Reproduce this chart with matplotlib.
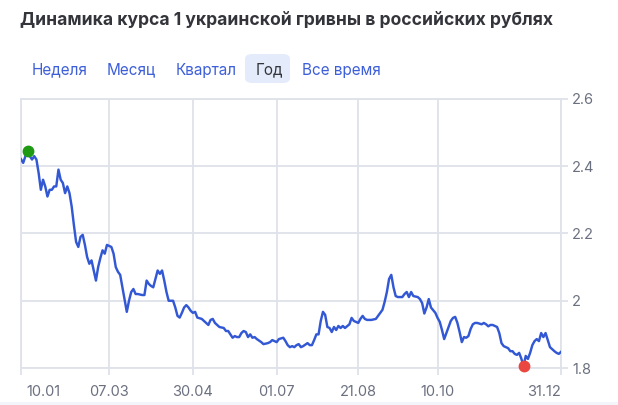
import matplotlib
matplotlib.use("Agg")
import matplotlib.pyplot as plt
import matplotlib.transforms as mtransforms
from matplotlib.patches import FancyBboxPatch, Rectangle
import numpy as np

plt.rcParams['font.family'] = ['Inter', 'DejaVu Sans']

title = "Динамика курса 1 украинской гривны в российских рублях"
periods = ["Неделя", "Месяц", "Квартал", "Год", "Все время"]
active_period = "Год"

# trading session number (0 = 10.01) and UAH/RUB rate
session = [0, 1, 2, 3, 4, 5, 6, 7, 8, 9, 10, 11, 12, 13, 14, 15, 16, 17, 18, 19,
           20, 21, 22, 23, 24, 25, 26, 27, 28, 29, 30, 31, 32, 33, 34, 35, 36, 37, 38, 39,
           41, 42, 43, 44, 45, 46, 48, 49, 50, 51, 52, 53, 55, 56, 57, 58, 59, 60, 62, 63,
           64, 65, 66, 67, 68, 69, 70, 71, 72, 73, 74, 75, 76, 77, 78, 79, 80, 82, 84, 85,
           86, 87, 88, 89, 90, 92, 93, 94, 96, 97, 98, 99, 100, 101, 102, 103, 104, 105, 106, 107,
           109, 110, 112, 113, 114, 116, 117, 119, 120, 121, 122, 123, 124, 125, 126, 127, 128, 130, 131, 132,
           133, 134, 135, 136, 137, 138, 139, 140, 141, 142, 143, 144, 145, 146, 147, 149, 150, 151, 153, 154,
           155, 156, 157, 159, 161, 162, 164, 165, 166, 167, 168, 169, 170, 171, 173, 174, 175, 176, 177, 178,
           180, 181, 182, 183, 184, 185, 186, 188, 189, 190, 191, 192, 193, 195, 196, 197, 198, 199, 200, 201,
           202, 203, 204, 205, 206, 207, 209, 210, 211, 212, 213, 214, 216, 217, 218, 219, 221, 222, 223, 224,
           225, 226, 227, 228, 229, 230, 231, 232, 233, 234, 235, 236, 237, 238, 239, 240, 241, 242, 243, 244,
           245]
rate = [2.421, 2.410, 2.430, 2.445, 2.430, 2.420, 2.430, 2.420, 2.380, 2.330, 2.360, 2.340, 2.310, 2.330, 2.330, 2.340, 2.340, 2.390, 2.360, 2.350,
        2.320, 2.340, 2.320, 2.280, 2.225, 2.175, 2.160, 2.190, 2.196, 2.166, 2.130, 2.110, 2.120, 2.090, 2.060, 2.100, 2.127, 2.150, 2.140, 2.166,
        2.160, 2.140, 2.100, 2.086, 2.077, 2.040, 1.967, 2.000, 2.026, 2.035, 2.020, 2.020, 2.017, 2.017, 2.060, 2.050, 2.044, 2.040, 2.090, 2.080,
        2.090, 2.060, 2.026, 2.000, 2.000, 2.000, 1.980, 1.955, 1.950, 1.964, 1.980, 1.987, 1.980, 1.970, 1.964, 1.967, 1.950, 1.946, 1.934, 1.928,
        1.943, 1.946, 1.934, 1.928, 1.922, 1.919, 1.910, 1.910, 1.890, 1.895, 1.892, 1.892, 1.904, 1.910, 1.907, 1.892, 1.900, 1.890, 1.892, 1.886,
        1.877, 1.871, 1.874, 1.877, 1.883, 1.877, 1.886, 1.890, 1.880, 1.868, 1.862, 1.865, 1.862, 1.868, 1.871, 1.862, 1.865, 1.874, 1.868, 1.868,
        1.883, 1.900, 1.900, 1.940, 1.967, 1.958, 1.922, 1.919, 1.907, 1.922, 1.913, 1.925, 1.919, 1.925, 1.919, 1.930, 1.949, 1.940, 1.934, 1.946,
        1.955, 1.946, 1.943, 1.943, 1.946, 1.955, 1.973, 1.997, 2.026, 2.065, 2.077, 2.040, 2.014, 2.011, 2.011, 2.020, 2.026, 2.011, 2.026, 2.014,
        2.011, 2.005, 1.993, 1.962, 1.980, 2.005, 1.980, 1.964, 1.949, 1.937, 1.913, 1.886, 1.904, 1.940, 1.949, 1.952, 1.934, 1.907, 1.877, 1.892,
        1.890, 1.895, 1.916, 1.930, 1.934, 1.934, 1.930, 1.934, 1.930, 1.924, 1.928, 1.928, 1.922, 1.904, 1.874, 1.865, 1.859, 1.850, 1.850, 1.842,
        1.839, 1.845, 1.828, 1.805, 1.836, 1.827, 1.845, 1.868, 1.880, 1.886, 1.880, 1.904, 1.892, 1.904, 1.883, 1.862, 1.856, 1.850, 1.845, 1.842,
        1.848]

tick_sessions = [0, 40, 78, 116, 153, 189, 245]
tick_labels = ["10.01", "07.03", "30.04", "01.07", "21.08", "10.10", "31.12"]
y_ticks = [1.8, 2.0, 2.2, 2.4, 2.6]
y_labels = ["1.8", "2", "2.2", "2.4", "2.6"]

grid_c = '#dfe2e9'
text_c = '#6b7080'
line_c = '#3358d4'

fig = plt.figure(figsize=(6.18, 4.05), dpi=100)
ax = fig.add_axes([21 / 618, 37 / 405, 540 / 618, 269 / 405])

ax.plot(session, rate, color=line_c, lw=1.75, solid_joinstyle='round', zorder=3)

imax = int(np.argmax(rate))
imin = int(np.argmin(rate))
ax.plot(session[imax], rate[imax], 'o', color='#1e9a12', ms=7.5, zorder=4, clip_on=False)
ax.plot(session[imin], rate[imin], 'o', color='#e9473f', ms=7.5, zorder=4, clip_on=False)

ax.set_xlim(0, 245)
ax.set_ylim(1.8, 2.6)
ax.set_xticks(tick_sessions)
ax.set_xticklabels(tick_labels)
ax.set_yticks(y_ticks)
ax.set_yticklabels(y_labels)
ax.yaxis.tick_right()
ax.grid(True, color=grid_c, lw=1.3)
ax.set_axisbelow(True)
for s in ax.spines.values():
    s.set_color(grid_c)
    s.set_linewidth(1.3)
ax.tick_params(axis='both', colors=grid_c, length=5, width=1.3, labelcolor=text_c, labelsize=10.5)
ax.tick_params(axis='x', pad=7)
ax.tick_params(axis='y', pad=3)

# keep the edge labels inside the plot
xl = ax.get_xticklabels()
xl[0].set_ha('left')
xl[0].set_transform(xl[0].get_transform() + mtransforms.ScaledTranslation(5 / 100, 0, fig.dpi_scale_trans))
xl[-1].set_ha('right')

fig.text(20 / 618, 1 - 20 / 405, title, fontsize=12.6, fontweight='bold', color='#33353b', va='center')

btn_x = [32, 107, 176, 256, 302]
for name, bx in zip(periods, btn_x):
    col = '#33353b' if name == active_period else '#3d5fd9'
    if name == active_period:
        fig.patches.append(FancyBboxPatch((245 / 618, 1 - 83 / 405), 45 / 618, 29 / 405,
                                          boxstyle='round,pad=0,rounding_size=0.012',
                                          transform=fig.transFigure, fc='#e4ecfb', ec='none'))
    fig.text(bx / 618, 1 - 70 / 405, name, fontsize=11, color=col, va='center')

fig.patches.append(Rectangle((0, 0), 1, 3 / 405, transform=fig.transFigure, fc='#f3f5fa', ec='none'))

fig.savefig('out.png', dpi=100)
